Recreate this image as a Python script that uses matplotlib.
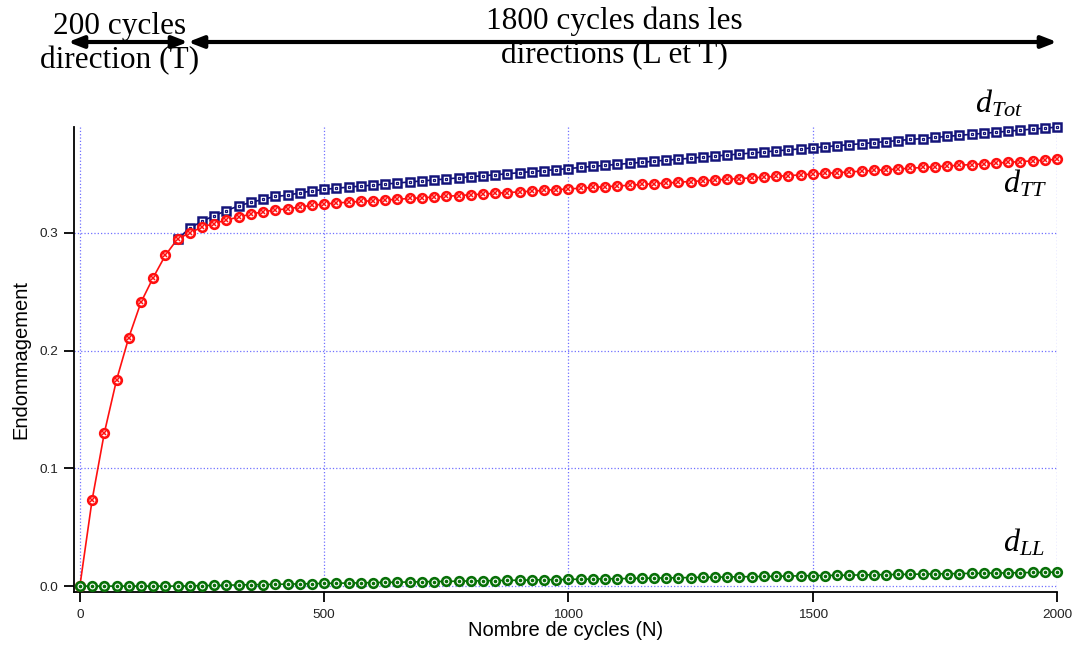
import numpy as np
import matplotlib
matplotlib.use("Agg")
import matplotlib.pyplot as plt

plt.rcParams['font.family'] = 'Liberation Sans'
plt.rcParams['mathtext.fontset'] = 'custom'
plt.rcParams['mathtext.it'] = 'Liberation Serif:italic'
plt.rcParams['mathtext.rm'] = 'Liberation Serif'

# cycles (every 25 cycles from 0 to 2000)
cycles = list(range(0, 2001, 25))

# phase 1 (0..200 cycles, direction T only) - same for d_TT and d_Tot
phase1 = [0.0, 0.073, 0.130, 0.175, 0.211, 0.241, 0.262, 0.281, 0.295]

d_tt = phase1 + [
    0.300, 0.305, 0.308, 0.311, 0.3135, 0.316, 0.318, 0.3195, 0.3205, 0.322,
    0.3235, 0.3245,
    0.3255, 0.3261, 0.3268, 0.3274, 0.3280, 0.3286, 0.3293, 0.3299, 0.3305, 0.3311,
    0.3318, 0.3324, 0.3330, 0.3337, 0.3343, 0.3349, 0.3355, 0.3362, 0.3368, 0.3374,
    0.3380, 0.3387, 0.3393, 0.3399, 0.3405, 0.3412, 0.3418, 0.3424, 0.3431, 0.3437,
    0.3443, 0.3449, 0.3456, 0.3462, 0.3468, 0.3474, 0.3481, 0.3487, 0.3493, 0.3500,
    0.3506, 0.3512, 0.3518, 0.3525, 0.3531, 0.3537, 0.3543, 0.3550, 0.3556, 0.3562,
    0.3569, 0.3575, 0.3581, 0.3587, 0.3594, 0.3600, 0.3606, 0.3612, 0.3619, 0.3625,
]

d_tot = phase1 + [
    0.304, 0.310, 0.3146, 0.319, 0.323, 0.326, 0.3285, 0.331, 0.332, 0.334,
    0.3356, 0.337,
    0.3380, 0.3389, 0.3398, 0.3406, 0.3415, 0.3424, 0.3433, 0.3442, 0.3450, 0.3459,
    0.3468, 0.3477, 0.3486, 0.3494, 0.3503, 0.3512, 0.3521, 0.3530, 0.3538, 0.3547,
    0.3556, 0.3565, 0.3574, 0.3582, 0.3591, 0.3600, 0.3609, 0.3618, 0.3626, 0.3635,
    0.3644, 0.3653, 0.3662, 0.3670, 0.3679, 0.3688, 0.3697, 0.3706, 0.3714, 0.3723,
    0.3732, 0.3741, 0.3750, 0.3758, 0.3767, 0.3776, 0.3785, 0.3794, 0.3802, 0.3811,
    0.3820, 0.3829, 0.3838, 0.3846, 0.3855, 0.3864, 0.3873, 0.3882, 0.3890, 0.3899,
]

d_ll = [0.0] * 9 + [
    0.0002, 0.0004, 0.0006, 0.0008, 0.0010, 0.0012, 0.0013, 0.0015, 0.0017, 0.0019,
    0.0021, 0.0023, 0.0025, 0.0026, 0.0028, 0.0030, 0.0032, 0.0033, 0.0035, 0.0037,
    0.0039, 0.0040, 0.0042, 0.0044, 0.0045, 0.0047, 0.0049, 0.0050, 0.0052, 0.0054,
    0.0055, 0.0057, 0.0059, 0.0060, 0.0062, 0.0063, 0.0065, 0.0067, 0.0068, 0.0070,
    0.0071, 0.0073, 0.0075, 0.0076, 0.0078, 0.0079, 0.0081, 0.0082, 0.0084, 0.0086,
    0.0087, 0.0089, 0.0090, 0.0092, 0.0093, 0.0095, 0.0096, 0.0098, 0.0099, 0.0101,
    0.0102, 0.0104, 0.0105, 0.0107, 0.0108, 0.0110, 0.0111, 0.0113, 0.0114, 0.0116,
    0.0117, 0.0119,
]

x_ticks = [0, 500, 1000, 1500, 2000]
y_ticks = [0.0, 0.1, 0.2, 0.3]

RED = '#ff1010'
NAVY = '#14147a'
GREEN = '#087008'

fig = plt.figure(figsize=(10.73, 6.45), dpi=100)
ax = fig.add_axes([74 / 1073, 1 - 592 / 645, (1057 - 74) / 1073, (592 - 127) / 645])

# d_Tot (navy squares) - hidden under d_TT during the first 200 cycles
i0 = 8
ax.plot(cycles[i0:], d_tot[i0:], color=NAVY, lw=1.2, marker='s', ms=5.6, mfc='white',
        mec=NAVY, mew=1.8, clip_on=False, zorder=3)
ax.plot(cycles[i0:], d_tot[i0:], ls='none', marker='s', ms=2.0, mfc='none', mec=NAVY,
        mew=0.9, clip_on=False, zorder=3)

# d_TT (red circles with x)
ax.plot(cycles, d_tt, color=RED, lw=1.2, marker='o', ms=6.2, mfc='white',
        mec=RED, mew=1.9, clip_on=False, zorder=4)
ax.plot(cycles, d_tt, ls='none', marker='x', ms=3.0, mec=RED, mew=1.1,
        clip_on=False, zorder=4)

# d_LL (green circles with dot)
ax.plot(cycles, d_ll, color=GREEN, lw=1.2, marker='o', ms=6.2, mfc='white',
        mec=GREEN, mew=1.9, clip_on=False, zorder=5)
ax.plot(cycles, d_ll, ls='none', marker='o', ms=1.6, mfc=GREEN, mec=GREEN,
        clip_on=False, zorder=5)

ax.set_xlim(-12, 2000)
ax.set_ylim(-0.005, 0.39)
ax.set_xticks(x_ticks)
ax.set_yticks(y_ticks)
ax.set_yticklabels([f'{v:.1f}' for v in y_ticks])
ax.grid(True, color='#7070ff', ls=':', lw=0.9)
ax.set_axisbelow(True)

for s in ['top', 'right']:
    ax.spines[s].set_visible(False)
ax.spines['left'].set_linewidth(1.3)
ax.spines['bottom'].set_linewidth(1.3)
ax.tick_params(direction='out', length=7, width=1.3, labelsize=9.7,
               labelcolor='#222222')
ax.tick_params(axis='x', pad=5)
ax.tick_params(axis='y', pad=4)

ax.set_xlabel('Nombre de cycles (N)', fontsize=14.5, labelpad=0)
ax.set_ylabel('Endommagement', fontsize=14.5, labelpad=7)

# curve labels
ax.text(1832, 0.402, r'$d_{Tot}$', fontsize=23, va='baseline', ha='left')
ax.text(1890, 0.334, r'$d_{TT}$', fontsize=23, va='baseline', ha='left')
ax.text(1890, 0.029, r'$d_{LL}$', fontsize=23, va='baseline', ha='left')

# phase annotations at the top
serif = 'Liberation Serif'
fig.text(120 / 1073, 1 - 12 / 645, '200 cycles\ndirection (T)', family=serif,
         fontsize=22.5, ha='center', va='top', linespacing=1.2)
fig.text(614 / 1073, 1 - 7 / 645, '1800 cycles dans les\ndirections (L et T)',
         family=serif, fontsize=22.5, ha='center', va='top', linespacing=1.2)

arrow = dict(arrowstyle='<|-|>,head_length=0.9,head_width=0.35', color='black',
             lw=3, shrinkA=0, shrinkB=0)
y_arr = 645 - 42
ax.annotate('', xy=(68, y_arr), xytext=(188, y_arr), xycoords='figure pixels',
            textcoords='figure pixels', arrowprops=arrow, annotation_clip=False)
ax.annotate('', xy=(188, y_arr), xytext=(1057, y_arr), xycoords='figure pixels',
            textcoords='figure pixels', arrowprops=arrow, annotation_clip=False)

assert len(d_tt) == len(cycles) and len(d_tot) == len(cycles) and len(d_ll) == len(cycles)

fig.savefig('out.png', dpi=100, facecolor='white')
